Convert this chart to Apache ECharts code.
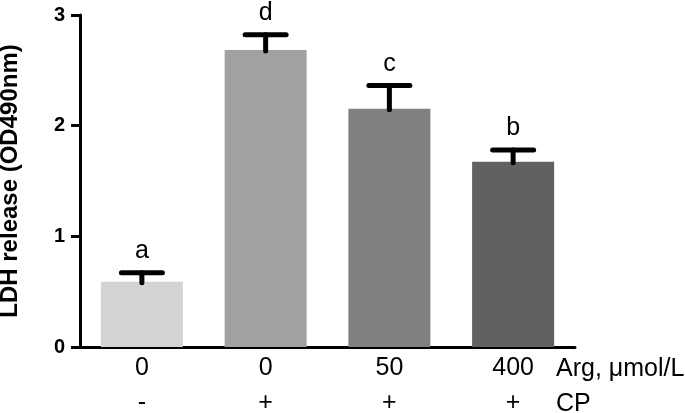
<!DOCTYPE html>
<html>
<head>
<meta charset="utf-8">
<script src="https://cdn.jsdelivr.net/npm/echarts@6/dist/echarts.min.js"></script>
<style>
html,body{margin:0;padding:0;background:#fff;}
#c{width:685px;height:413px;}
</style>
</head>
<body>
<div id="c"></div>
<script>
var argLabels = ['0', '0', '50', '400'];
var cpLabels = ['-', '+', '+', '+'];
var means = [0.59, 2.684, 2.153, 1.674];
var errors = [0.081, 0.138, 0.211, 0.106];
var letters = ['a', 'd', 'c', 'b'];
var barColors = ['#d3d3d3', '#a1a1a1', '#808080', '#616161'];
var yTicks = [0, 1, 2, 3];

var FONT = '"Liberation Sans", Arial, sans-serif';
var categories = argLabels.map(function (a, i) { return a + '\n' + cpLabels[i]; });

var chart = echarts.init(document.getElementById('c'), null, {renderer: 'canvas'});
chart.setOption({
  animation: false,
  backgroundColor: '#fff',
  grid: {left: 80, right: 110, top: 15, bottom: 66, containLabel: false, outerBoundsMode: 'none'},
  xAxis: {
    type: 'category',
    data: categories,
    axisLine: {show: true, lineStyle: {color: '#000', width: 3}},
    axisTick: {show: false},
    axisLabel: {color: '#000', fontSize: 25, fontFamily: FONT, lineHeight: 35, margin: 4}
  },
  yAxis: {
    type: 'value',
    min: yTicks[0],
    max: yTicks[yTicks.length - 1],
    interval: 1,
    name: 'LDH release (OD490nm)',
    nameLocation: 'middle',
    nameGap: 58,
    nameTextStyle: {color: '#000', fontSize: 24, fontWeight: 'bold', fontFamily: FONT},
    axisLine: {show: true, lineStyle: {color: '#000', width: 3}},
    axisTick: {show: true, length: 9, lineStyle: {color: '#000', width: 3}},
    axisLabel: {color: '#000', fontSize: 20, fontWeight: 'bold', fontFamily: FONT, margin: 15},
    splitLine: {show: false}
  },
  graphic: [
    {type: 'text', x: 556, y: 369, style: {text: 'Arg, μmol/L', fill: '#000', fontSize: 25, fontFamily: FONT, verticalAlign: 'middle'}},
    {type: 'text', x: 556, y: 404, style: {text: 'CP', fill: '#000', fontSize: 25, fontFamily: FONT, verticalAlign: 'middle'}}
  ],
  series: [
    {
      type: 'bar',
      barWidth: 82,
      data: means.map(function (v, i) { return {value: v, itemStyle: {color: barColors[i]}}; }),
      z: 2
    },
    {
      type: 'custom',
      z: 3,
      data: means.map(function (v, i) { return [i, v, errors[i]]; }),
      renderItem: function (params, api) {
        var x = api.value(0), m = api.value(1), e = api.value(2);
        var base = api.coord([x, m]);
        var top = api.coord([x, m + e]);
        return {
          type: 'group',
          children: [
            {type: 'line', shape: {x1: base[0], y1: base[1] + 1, x2: top[0], y2: top[1]},
              style: {stroke: '#000', lineWidth: 5, lineCap: 'round'}},
            {type: 'line', shape: {x1: top[0] - 20.5, y1: top[1], x2: top[0] + 20.5, y2: top[1]},
              style: {stroke: '#000', lineWidth: 5, lineCap: 'round'}},
            {type: 'text', x: top[0], y: top[1] - 9,
              style: {text: letters[params.dataIndex], fill: '#000', fontSize: 25, fontFamily: FONT,
                align: 'center', verticalAlign: 'bottom'}}
          ]
        };
      }
    }
  ]
});
</script>
</body>
</html>
